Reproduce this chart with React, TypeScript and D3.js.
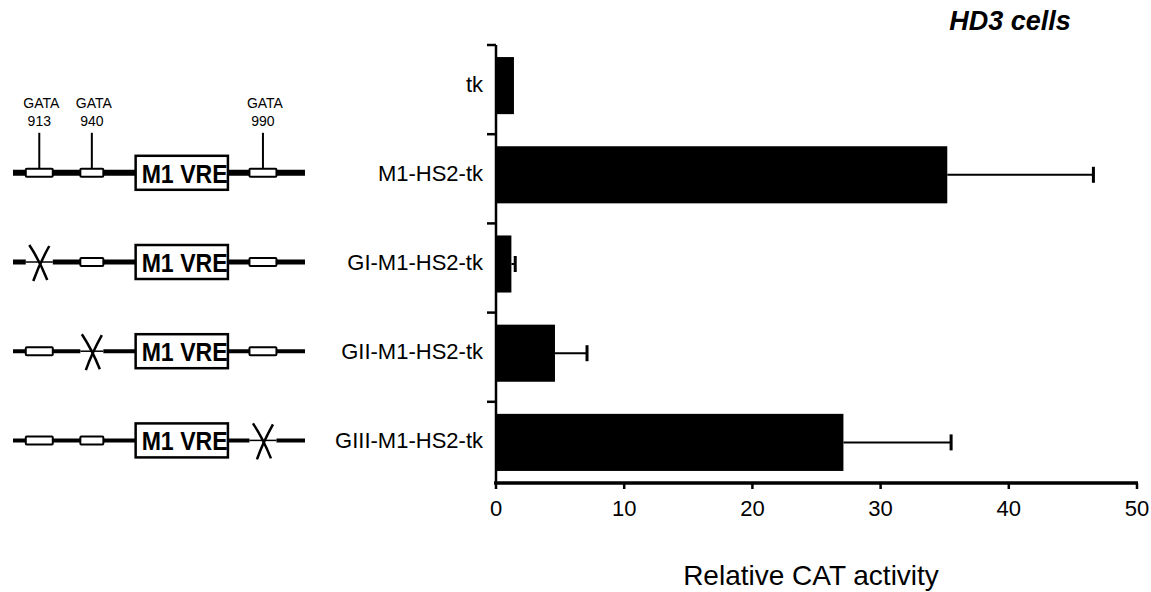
import * as d3 from 'd3';

// constructs, top to bottom
const categories = ['tk', 'M1-HS2-tk', 'GI-M1-HS2-tk', 'GII-M1-HS2-tk', 'GIII-M1-HS2-tk'];
const activity = [1.4, 35.2, 1.2, 4.6, 27.1];
const errors = [0, 11.4, 0.3, 2.5, 8.4];
const xTicks = [0, 10, 20, 30, 40, 50];

// GATA sites drawn on the schematic, and which one is mutated in each construct
const gataSites = ['913', '940', '990'];
const mutated: (number | null)[] = [null, null, 0, 1, 2];
const hasDiagram = [false, true, true, true, true];

const W = 1151;
const H = 592;
const FONT = 'Liberation Sans, Arial, Helvetica, sans-serif';

// schematic layout (units 0..100 along the track)
const sitePos = [9, 27, 85.6];
const vre = { start: 42, end: 73.6 };

export default function App() {
  const x = d3.scaleLinear().domain([0, 50]).range([496, 1137]);
  const y = d3
    .scaleBand<string>()
    .domain(categories)
    .range([41, 487])
    .paddingInner(0.36)
    .paddingOuter(0.18);
  const tickY = d3.scaleLinear().domain([0, 5]).range([45, 491]);
  const track = d3.scaleLinear().domain([0, 100]).range([13, 305]);
  const axisY = 483;
  const center = (c: string) => (y(c) ?? 0) + y.bandwidth() / 2;

  return (
    <div style={{ position: 'fixed', left: 0, top: 0 }}>
      <svg width={W} height={H} style={{ display: 'block', background: '#fff' }}>
        <text
          x={1010}
          y={30}
          textAnchor="middle"
          fontFamily={FONT}
          fontSize={27}
          fontWeight="bold"
          fontStyle="italic"
        >
          HD3 cells
        </text>

        {/* GATA labels over the first schematic */}
        {gataSites.map((s, i) => {
          const cx = track(sitePos[i]);
          const cy = center(categories[1]) - 2;
          return (
            <g key={s}>
              <text x={cx + 2} y={cy - 65} textAnchor="middle" fontFamily={FONT} fontSize={14}>
                GATA
              </text>
              <text x={cx} y={cy - 47} textAnchor="middle" fontFamily={FONT} fontSize={14}>
                {s}
              </text>
              <line x1={cx} x2={cx} y1={cy - 40} y2={cy - 4} stroke="#000" strokeWidth={2} />
            </g>
          );
        })}

        {/* schematics */}
        {categories.map((c, r) => {
          if (!hasDiagram[r]) return null;
          const cy = center(c) - 2;
          const lw = r === 1 ? 6 : r === 2 ? 5 : 4;
          return (
            <g key={'d' + c}>
              <line
                x1={track(0)}
                x2={track(100)}
                y1={cy}
                y2={cy}
                stroke="#000"
                strokeWidth={lw}
              />
              {sitePos.map((p, i) => {
                const cx = track(p);
                const bw = i === 1 ? 23 : 27;
                if (mutated[r] === i) {
                  return (
                    <g key={i}>
                      <rect x={cx - bw / 2} y={cy - 3} width={bw} height={6} fill="#fff" />
                      <line x1={cx - bw / 2} x2={cx + bw / 2} y1={cy} y2={cy} stroke="#000" strokeWidth={1.5} />
                      <path
                        d={`M${cx - 10},${cy - 17} Q${cx},${cy - 2} ${cx + 8},${cy + 18}`}
                        fill="none"
                        stroke="#000"
                        strokeWidth={2.5}
                      />
                      <path
                        d={`M${cx + 10},${cy - 16} Q${cx},${cy + 2} ${cx - 6},${cy + 19}`}
                        fill="none"
                        stroke="#000"
                        strokeWidth={2.5}
                      />
                    </g>
                  );
                }
                return (
                  <rect
                    key={i}
                    x={cx - bw / 2}
                    y={cy - 4}
                    width={bw}
                    height={8}
                    rx={1}
                    fill="#fff"
                    stroke="#000"
                    strokeWidth={2}
                  />
                );
              })}
              <rect
                x={track(vre.start)}
                y={cy - 17}
                width={track(vre.end) - track(vre.start)}
                height={34}
                fill="#fff"
                stroke="#000"
                strokeWidth={2.5}
              />
              <text
                x={track(vre.start) + 6}
                y={cy + 10}
                fontFamily={FONT}
                fontSize={26}
                fontWeight="bold"
                textLength={86}
                lengthAdjust="spacingAndGlyphs"
              >
                M1 VRE
              </text>
            </g>
          );
        })}

        {/* category labels */}
        {categories.map((c) => (
          <text
            key={'l' + c}
            x={483}
            y={center(c) + 6}
            textAnchor="end"
            fontFamily={FONT}
            fontSize={22}
          >
            {c}
          </text>
        ))}

        {/* bars */}
        {categories.map((c, i) => (
          <rect
            key={'b' + c}
            x={x(0)}
            y={y(c)}
            width={x(activity[i]) - x(0)}
            height={y.bandwidth()}
            fill="#000"
          />
        ))}

        {/* error bars */}
        {categories.map((c, i) =>
          errors[i] > 0 ? (
            <g key={'e' + c}>
              <line
                x1={x(activity[i])}
                x2={x(activity[i] + errors[i])}
                y1={center(c)}
                y2={center(c)}
                stroke="#000"
                strokeWidth={2}
              />
              <line
                x1={x(activity[i] + errors[i])}
                x2={x(activity[i] + errors[i])}
                y1={center(c) - 8}
                y2={center(c) + 8}
                stroke="#000"
                strokeWidth={3}
              />
            </g>
          ) : null
        )}

        {/* y axis */}
        <line x1={x(0)} x2={x(0)} y1={tickY(0)} y2={axisY} stroke="#000" strokeWidth={2.5} />
        {d3.range(5).map((k) => (
          <line
            key={'yt' + k}
            x1={x(0) - 9}
            x2={x(0)}
            y1={tickY(k)}
            y2={tickY(k)}
            stroke="#000"
            strokeWidth={2.5}
          />
        ))}

        {/* x axis */}
        <line x1={x(0) - 2} x2={x(50) + 1} y1={axisY} y2={axisY} stroke="#000" strokeWidth={3.5} />
        {xTicks.map((t) => (
          <g key={'xt' + t}>
            <line x1={x(t)} x2={x(t)} y1={axisY} y2={axisY + 6} stroke="#000" strokeWidth={2.5} />
            <text
              x={x(t)}
              y={516}
              textAnchor="middle"
              fontFamily={FONT}
              fontSize={22}
            >
              {t}
            </text>
          </g>
        ))}

        <text
          x={811}
          y={585}
          textAnchor="middle"
          fontFamily={FONT}
          fontSize={28}
        >
          Relative CAT activity
        </text>
      </svg>
    </div>
  );
}
